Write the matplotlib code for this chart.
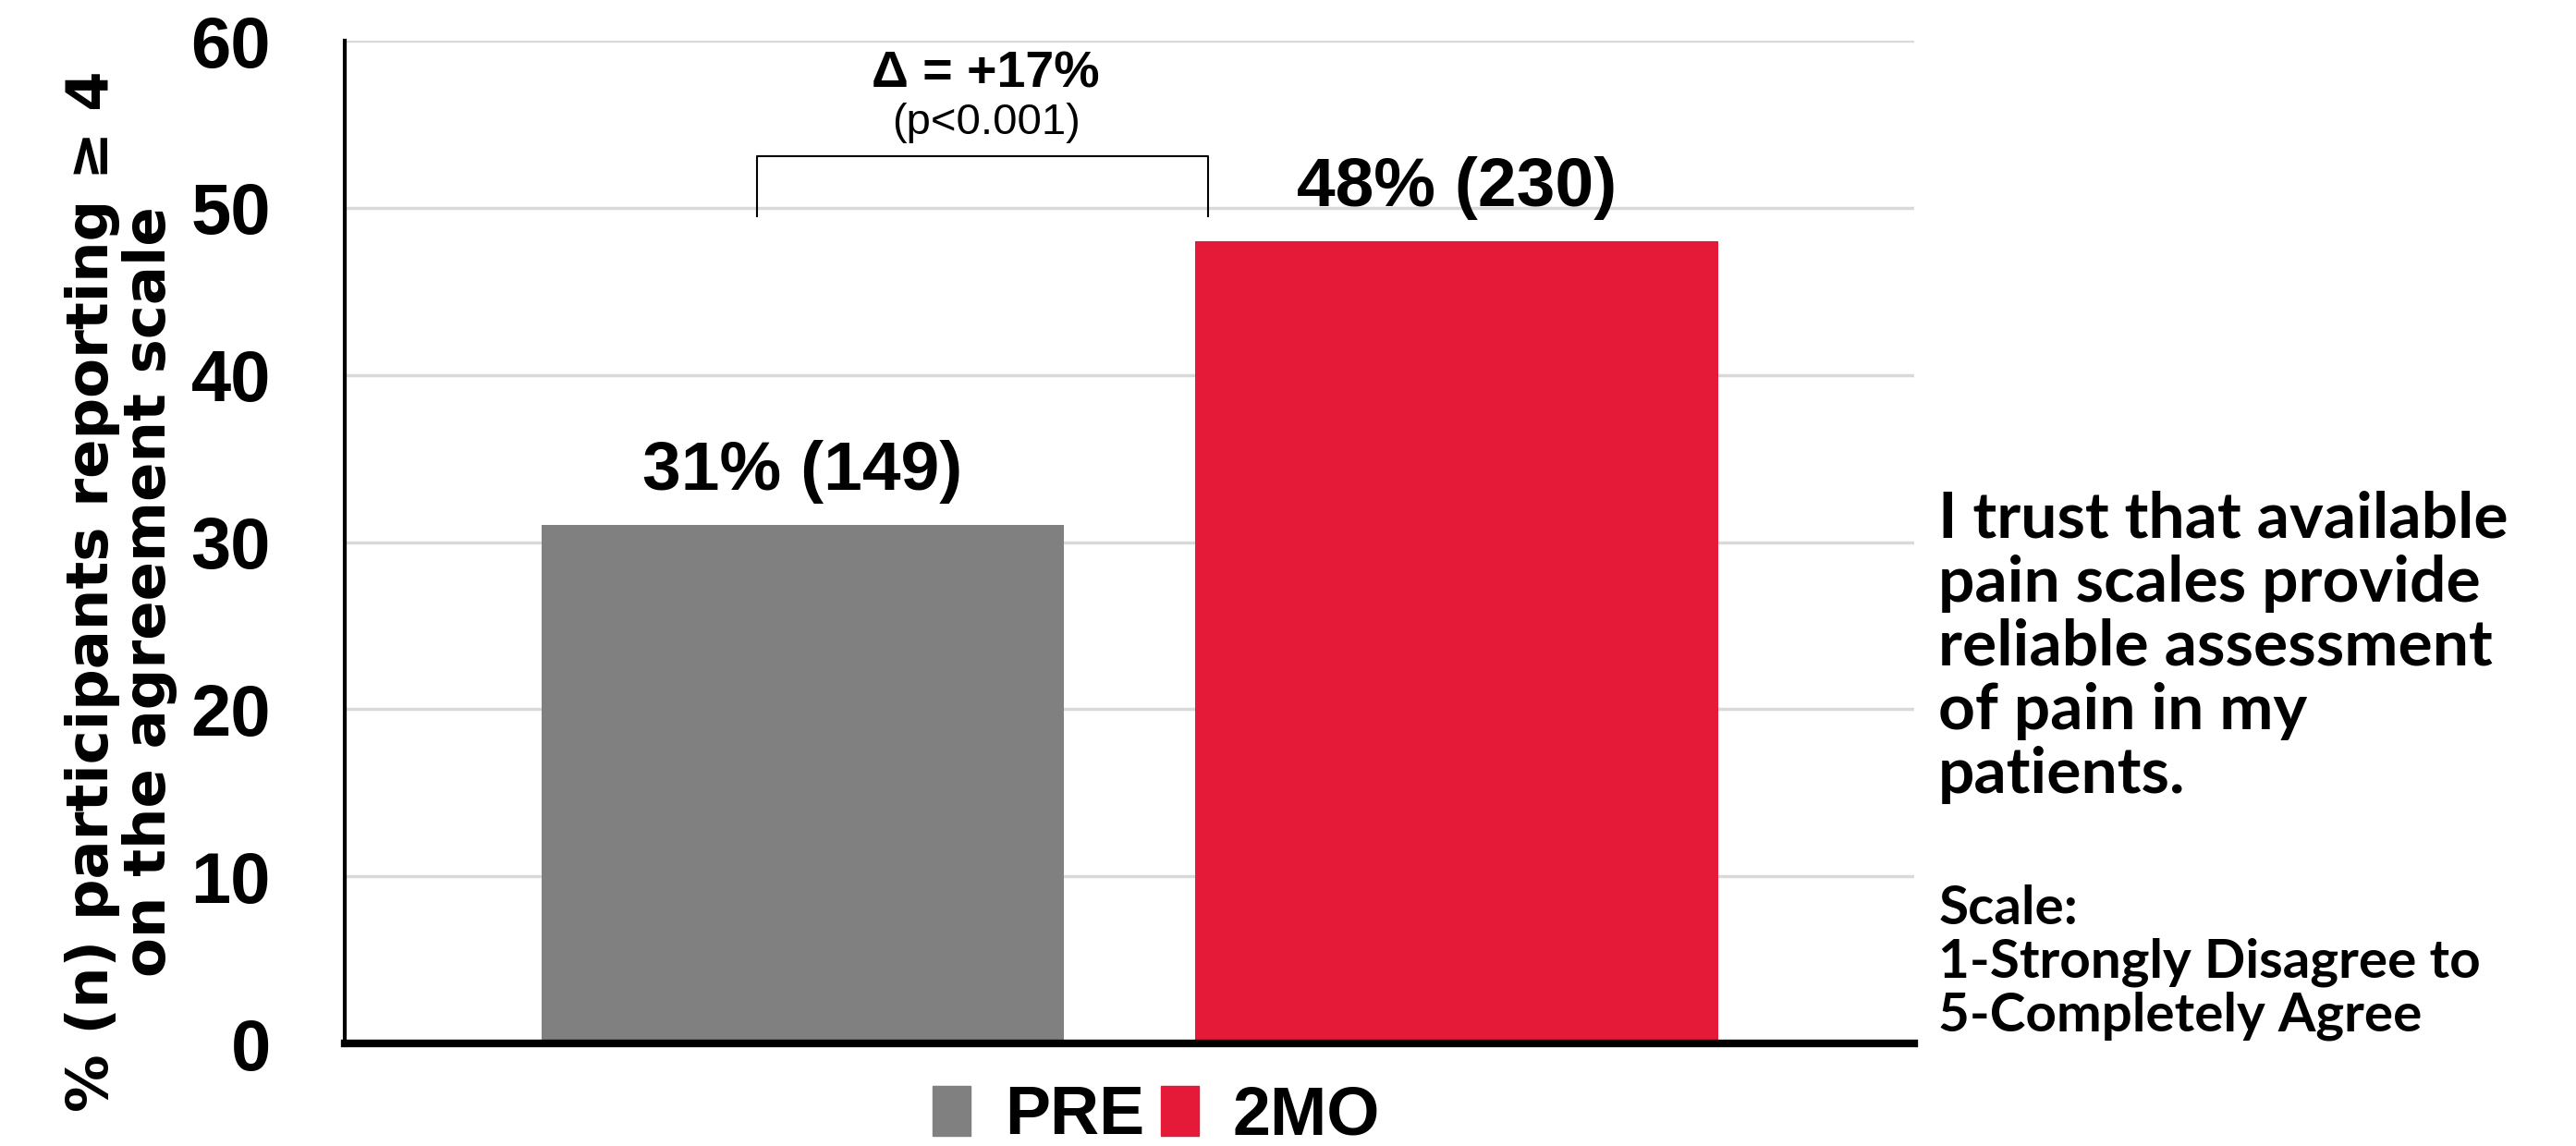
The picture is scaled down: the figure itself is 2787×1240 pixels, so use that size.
import matplotlib
matplotlib.use('Agg')
import matplotlib.pyplot as plt
from matplotlib.patches import Patch
from matplotlib import font_manager

# data
groups = ['PRE', '2MO']
percents = [31, 48]
counts = [149, 230]
colors = ['#808080', '#E41A38']
delta_label = '\u0394 = +17%'
p_label = '(p<0.001)'
y_ticks = [0, 10, 20, 30, 40, 50, 60]

names = {f.name for f in font_manager.fontManager.ttflist}
narrow = 'Liberation Sans Narrow' if 'Liberation Sans Narrow' in names else 'Liberation Sans'

fig = plt.figure(figsize=(27.87, 12.40), dpi=100)
ax = fig.add_axes([0.134, 0.0895, 0.609, 0.875])

x = list(range(len(groups)))
ax.bar(x, percents, width=0.8, color=colors, zorder=3)

for xi, p, n in zip(x, percents, counts):
    ax.text(xi, p + 3.2, f'{p}% ({n})', ha='center', va='center',
            fontsize=54, fontweight='bold', family=narrow, zorder=4)

# significance bracket
ax.plot([-0.07, -0.07, 0.62, 0.62], [49.5, 53.1, 53.1, 49.5],
        color='black', linewidth=1.5, zorder=4)
ax.text(0.28, 58.0, delta_label, ha='center', va='center',
        fontsize=40, fontweight='bold', family=narrow)
ax.text(0.28, 55.1, p_label, ha='center', va='center',
        fontsize=34, family=narrow)

ax.set_xlim(-0.7, 1.7)
ax.set_ylim(0, 60)
ax.set_yticks(y_ticks)
ax.set_xticks([])
ax.tick_params(axis='y', length=0, pad=58)
for lab in ax.get_yticklabels():
    lab.set_fontsize(56)
    lab.set_fontweight('bold')
    lab.set_family(narrow)

ax.grid(axis='y', color='#d9d9d9', linewidth=2.5, zorder=0)
ax.spines['top'].set_visible(False)
ax.spines['right'].set_visible(False)
ax.spines['left'].set_linewidth(3)
ax.spines['bottom'].set_linewidth(6)
ax.spines['left'].set_zorder(5)
ax.spines['bottom'].set_zorder(5)

fig.text(0.047, 0.484, '% (n) participants reporting \u2265 4\non the agreement scale',
         rotation=90, ha='center', va='center', fontsize=45, fontweight='bold',
         family='DejaVu Sans', linespacing=1.05)

handles = [Patch(color=c) for c in colors]
fig.legend(handles, groups, loc='center', bbox_to_anchor=(0.449, 0.026),
           ncol=2, frameon=False, handlelength=0.55, handleheight=0.75,
           handletextpad=0.5, columnspacing=0.25, borderpad=0.1,
           prop={'family': narrow, 'weight': 'bold', 'size': 53})

fig.text(0.7525, 0.572, 'I trust that available\npain scales provide\n'
         'reliable assessment\nof pain in my\npatients.',
         ha='left', va='top', fontsize=50, fontweight='bold',
         family='Lato', linespacing=1.12)
fig.text(0.7525, 0.228, 'Scale:\n1-Strongly Disagree to\n5-Completely Agree',
         ha='left', va='top', fontsize=42, fontweight='bold',
         family='Lato', linespacing=1.1)

fig.savefig('out.png', dpi=100)
